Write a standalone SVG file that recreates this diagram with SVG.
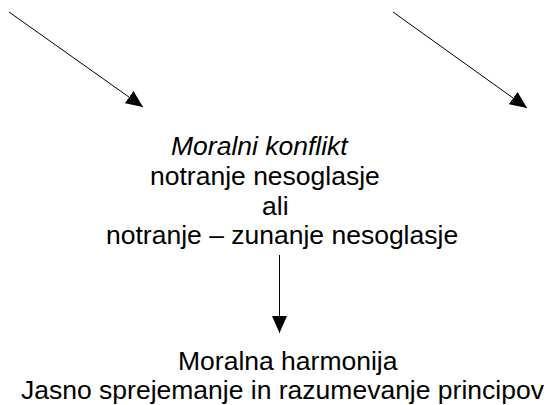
<svg xmlns="http://www.w3.org/2000/svg" width="547" height="405" viewBox="0 0 547 405">
  <style>
    .t { font-family: "Liberation Sans", Arial, sans-serif; font-size: 26.5px; fill: #000; }
    .it { font-style: italic; }
    .c { stroke: #000; stroke-width: 1; fill: none; }
  </style>
  <defs>
    <marker id="head" viewBox="0 0 17 15" refX="17" refY="7.5" markerWidth="17" markerHeight="15" markerUnits="userSpaceOnUse" orient="auto">
      <path d="M0,0 L17,7.5 L0,15 Z" fill="#000"/>
    </marker>
  </defs>
  <rect width="547" height="405" fill="#fff"/>

  <g id="connectors">
    <line class="c" x1="9" y1="12" x2="143" y2="107" marker-end="url(#head)"/>
    <line class="c" x1="393" y1="12" x2="527" y2="108" marker-end="url(#head)"/>
    <line class="c" x1="279.5" y1="255" x2="279.5" y2="333" marker-end="url(#head)"/>
  </g>

  <g id="conflict">
    <text class="t it" x="171" y="155">Moralni konflikt</text>
    <text class="t" x="150" y="185">notranje nesoglasje</text>
    <text class="t" x="262" y="215">ali</text>
    <text class="t" x="106" y="244">notranje – zunanje nesoglasje</text>
  </g>

  <g id="harmony">
    <text class="t" x="178" y="370">Moralna harmonija</text>
    <text class="t" x="21" y="399">Jasno sprejemanje in razumevanje principov</text>
  </g>
</svg>
